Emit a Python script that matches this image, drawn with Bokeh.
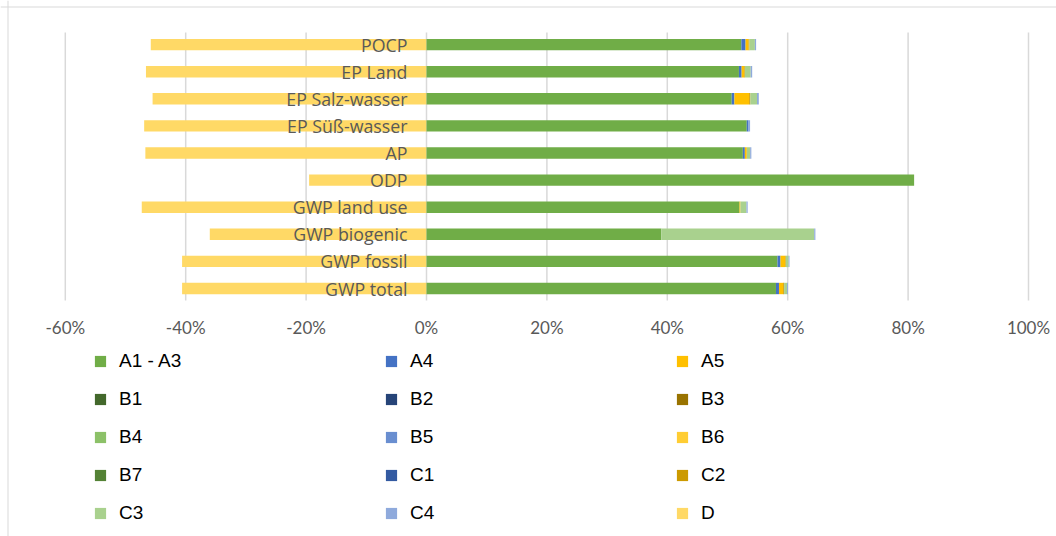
from bokeh.plotting import figure
from bokeh.models import ColumnDataSource, Range1d, Legend, LegendItem, Span
from bokeh.core.properties import value
from bokeh.embed import file_html
from bokeh.resources import INLINE

# ---------------- data ----------------
categories = ["GWP total", "GWP fossil", "GWP biogenic", "GWP land use", "ODP",
              "AP", "EP Süß-wasser", "EP Salz-wasser", "EP Land", "POCP"]

series_names = ["A1 - A3", "A4", "A5", "B1", "B2", "B3", "B4", "B5", "B6", "B7",
                "C1", "C2", "C3", "C4", "D"]

A1_A3 = [58.05, 58.3, 39.0, 52.0, 81.0, 52.55, 53.2, 50.7, 51.9, 52.3]
A4 = [0.5, 0.5, 0.0, 0.0, 0.0, 0.33, 0.3, 0.45, 0.45, 0.7]
A5 = [0.7, 0.8, 0.0, 0.15, 0.0, 0.33, 0.0, 2.45, 0.45, 0.5]
B1 = [0.0] * 10
B2 = [0.0] * 10
B3 = [0.0] * 10
B4 = [0.0] * 10
B5 = [0.0] * 10
B6 = [0.0] * 10
B7 = [0.0] * 10
C1 = [0.0] * 10
C2 = [0.15, 0.1, 0.0, 0.0, 0.0, 0.0, 0.0, 0.2, 0.1, 0.15]
C3 = [0.5, 0.45, 25.4, 1.0, 0.0, 0.55, 0.0, 1.1, 0.95, 0.9]
C4 = [0.15, 0.15, 0.2, 0.2, 0.0, 0.2, 0.25, 0.3, 0.25, 0.2]
D = [-40.6, -40.6, -36.0, -47.3, -19.5, -46.7, -46.9, -45.5, -46.6, -45.8]

x_ticks = [-60, -40, -20, 0, 20, 40, 60, 80, 100]
x_tick_labels = ["-60%", "-40%", "-20%", "0%", "20%", "40%", "60%", "80%", "100%"]

colors = {
    "A1 - A3": "#70AD47", "A4": "#4472C4", "A5": "#FFC000",
    "B1": "#43682B", "B2": "#264478", "B3": "#997300",
    "B4": "#8CC168", "B5": "#698ED0", "B6": "#FFCD33",
    "B7": "#548235", "C1": "#335AA1", "C2": "#CC9A00",
    "C3": "#A9D18E", "C4": "#8FAADC", "D": "#FFD966",
}

W, H = 1056, 536
# pixel geometry of the chart (layout only)
X0_PX = 426.0       # pixel of 0 %
PX_PER_PCT = 6.02
Y0_PX = 288.0       # pixel of first category row
PX_PER_ROW = 27.1

def x_px(px):
    return (px - X0_PX) / PX_PER_PCT

def y_px(py):
    return (Y0_PX - py) / PX_PER_ROW

ypos = list(range(len(categories)))
data = dict(y=ypos, cat=categories,
            A1_A3=A1_A3, A4=A4, A5=A5, B1=B1, B2=B2, B3=B3, B4=B4, B5=B5,
            B6=B6, B7=B7, C1=C1, C2=C2, C3=C3, C4=C4, D=D,
            zero=[0.0] * len(categories))
src = ColumnDataSource(data)

p = figure(width=W, height=H, output_backend="svg", toolbar_location=None,
           x_range=Range1d(x_px(0), x_px(W)), y_range=Range1d(y_px(H), y_px(0)),
           x_axis_location=None, y_axis_location=None,
           min_border=0, min_border_left=0, min_border_right=0,
           min_border_top=0, min_border_bottom=0)
p.outline_line_color = None
p.xgrid.visible = False
p.ygrid.visible = False
p.background_fill_color = "white"
p.border_fill_color = "white"

# chart border (top/left visible in the reference)
p.add_layout(Span(location=x_px(7.5), dimension="height", line_color="#D9D9D9", line_width=1))
p.add_layout(Span(location=y_px(6.5), dimension="width", line_color="#D9D9D9", line_width=1))

# gridlines
grid_src = ColumnDataSource(dict(x=x_ticks, y0=[y_px(300)] * len(x_ticks),
                                 y1=[y_px(32)] * len(x_ticks)))
p.segment(x0="x", y0="y0", x1="x", y1="y1", source=grid_src,
          line_color="#D9D9D9", line_width=1.5)

# tick labels
tick_src = ColumnDataSource(dict(x=x_ticks, y=[y_px(327)] * len(x_ticks), t=x_tick_labels))
p.text(x="x", y="y", text="t", source=tick_src, text_align="center",
       text_baseline="middle", text_color="#595959",
       text_font=value("Lato"), text_font_size="17px")

bar_h = 0.42
keys = ["A1_A3", "A4", "A5", "B1", "B2", "B3", "B4", "B5", "B6", "B7", "C1", "C2", "C3", "C4"]
renderers = {}
# D (negative)
renderers["D"] = p.hbar(y="y", left="zero", right="D", height=bar_h, source=src,
                        fill_color=colors["D"], line_color=None)
stack = p.hbar_stack(keys, y="y", height=bar_h, source=src,
                     color=[colors[n] for n in series_names[:-1]], line_color=None)
for n, r in zip(series_names[:-1], stack):
    renderers[n] = r

# category labels next to the axis
p.text(x="zero", y="y", text="cat", source=src, x_offset=-19, text_align="right",
       text_baseline="middle", text_color="#595959",
       text_font=value("Open Sans"), text_font_size="17.8px")

legend = Legend(items=[LegendItem(label=n, renderers=[renderers[n]]) for n in series_names],
                ncols=3, location=(93, 12), orientation="horizontal",
                glyph_width=14, glyph_height=14, label_standoff=12,
                label_text_font="Liberation Sans", label_text_font_size="19px",
                label_text_color="#000000", spacing=16, label_width=249,
                border_line_color=None, background_fill_alpha=0,
                padding=0, margin=0)
p.add_layout(legend, "center")

open("out.html", "w").write(file_html(p, INLINE))
